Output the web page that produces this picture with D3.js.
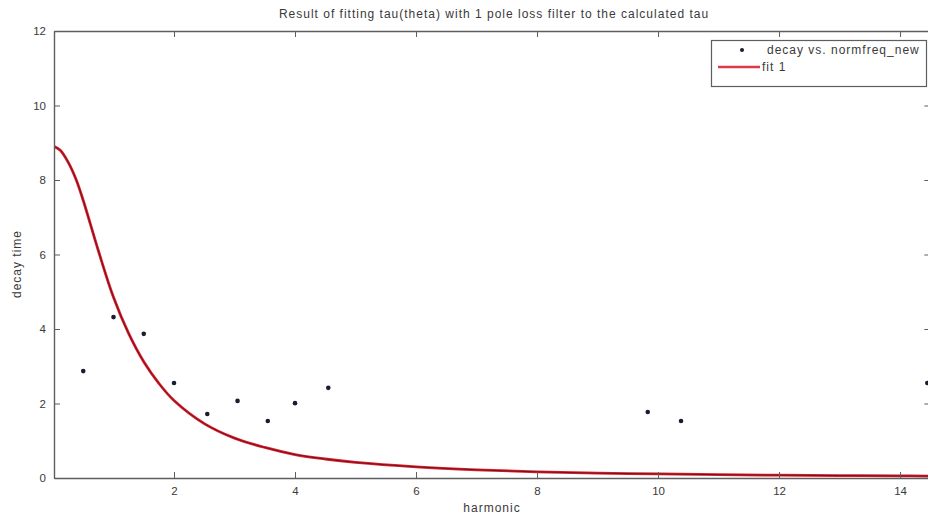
<!DOCTYPE html>
<html>
<head>
<meta charset="utf-8">
<script src="https://cdn.jsdelivr.net/npm/d3@7"></script>
<style>
  html, body { margin: 0; padding: 0; background: #fff; }
  svg { display: block; font-family: "Liberation Sans", Arial, sans-serif; }
</style>
</head>
<body>
<svg id="chart" width="928" height="517"></svg>
<script>
// Measured decay times per harmonic
const harmonic = [0.5, 1.0, 1.5, 2.0, 2.55, 3.05, 3.55, 4.0, 4.55, 9.83, 10.38, 14.45];
const decay    = [2.87, 4.32, 3.87, 2.55, 1.72, 2.07, 1.53, 2.01, 2.42, 1.77, 1.53, 2.55];

// Fitted one-pole loss filter curve, sampled along the harmonic axis
const fitHarmonic = [0.02, 0.12, 0.25, 0.38, 0.5, 0.75, 1.0, 1.25, 1.5, 1.75, 2.0, 2.5, 3.0, 3.5, 4.0, 4.5, 5.0, 6.0, 7.0, 8.0, 9.0, 10.0, 11.0, 12.0, 13.0, 14.0, 14.5];
const fitDecay    = [8.90, 8.80, 8.48, 8.02, 7.45, 6.10, 4.85, 3.88, 3.12, 2.54, 2.08, 1.46, 1.07, 0.82, 0.63, 0.51, 0.42, 0.30, 0.22, 0.165, 0.13, 0.11, 0.09, 0.075, 0.065, 0.056, 0.052];

const xTicks = [2, 4, 6, 8, 10, 12, 14];
const yTicks = [0, 2, 4, 6, 8, 10, 12];

const titleText = "Result of fitting tau(theta) with 1 pole loss filter to the calculated tau";
const xLabel = "harmonic";
const yLabel = "decay time";
const legendLabels = ["decay vs. normfreq_new", "fit 1"];

const svg = d3.select("#chart");
const plotLeft = 54, plotRight = 930.3, plotTop = 31, plotBottom = 478;

const x = d3.scaleLinear().domain([0.0165, 14.5]).range([plotLeft, plotRight]);
const y = d3.scaleLinear().domain([0, 12]).range([plotBottom, plotTop]);

const axisColor = "#5e5e5e";
const textColor = "#3a3a3a";
const labelFont = 12, labelSpacing = 1;

// Clip for plotted marks
svg.append("defs").append("clipPath").attr("id", "plotClip")
  .append("rect").attr("x", plotLeft).attr("y", plotTop)
  .attr("width", plotRight - plotLeft).attr("height", plotBottom - plotTop);

// Fit curve
const line = d3.line()
  .x((d, i) => x(fitHarmonic[i]))
  .y(d => y(d))
  .curve(d3.curveCatmullRom.alpha(0.5));

const plot = svg.append("g").attr("clip-path", "url(#plotClip)");
plot.append("path").datum(fitDecay)
  .attr("d", line).attr("fill", "none")
  .attr("stroke", "#d8202e").attr("stroke-width", 2.8);
plot.append("path").datum(fitDecay)
  .attr("d", line).attr("fill", "none")
  .attr("stroke", "#5a0a12").attr("stroke-width", 0.9).attr("stroke-opacity", 0.85);

// Data points
plot.selectAll("circle.pt").data(decay).join("circle")
  .attr("class", "pt")
  .attr("cx", (d, i) => x(harmonic[i]))
  .attr("cy", d => y(d))
  .attr("r", 2.3)
  .attr("fill", "#1c1c30");

// Axes (ticks point inward on all four sides)
function styleAxis(g) {
  g.select(".domain").attr("stroke", axisColor).attr("stroke-width", 1.4);
  g.selectAll(".tick line").attr("stroke", axisColor).attr("stroke-width", 1);
  g.selectAll(".tick text").attr("fill", textColor).attr("font-size", 11.5)
    .attr("font-family", "'Liberation Sans', Arial, sans-serif");
}

svg.append("g").attr("transform", `translate(0,${plotBottom})`)
  .call(d3.axisBottom(x).tickValues(xTicks).tickSizeInner(-6).tickSizeOuter(0).tickPadding(9))
  .call(styleAxis);
svg.append("g").attr("transform", `translate(0,${plotTop})`)
  .call(d3.axisTop(x).tickValues(xTicks).tickSizeInner(-6).tickSizeOuter(0).tickFormat(""))
  .call(styleAxis);
svg.append("g").attr("transform", `translate(${plotLeft},0)`)
  .call(d3.axisLeft(y).tickValues(yTicks).tickSizeInner(-6).tickSizeOuter(0).tickPadding(8))
  .call(styleAxis);
svg.append("g").attr("transform", `translate(${plotRight},0)`)
  .call(d3.axisRight(y).tickValues(yTicks).tickSizeInner(-6).tickSizeOuter(0).tickFormat(""))
  .call(styleAxis);

// Title and axis labels
function label(sel) {
  return sel.attr("font-size", labelFont).attr("letter-spacing", labelSpacing).attr("fill", textColor);
}
svg.append("text").attr("x", 494).attr("y", 18)
  .attr("text-anchor", "middle").call(label).text(titleText);
svg.append("text").attr("x", 492).attr("y", 512)
  .attr("text-anchor", "middle").call(label).text(xLabel);
svg.append("text").attr("transform", `translate(21,264) rotate(-90)`)
  .attr("text-anchor", "middle").call(label).text(yLabel);

// Legend
const lg = svg.append("g");
lg.append("rect").attr("x", 711.5).attr("y", 40.5).attr("width", 215).attr("height", 46)
  .attr("fill", "#fff").attr("stroke", axisColor).attr("stroke-width", 1.2);
lg.append("circle").attr("cx", 742).attr("cy", 50).attr("r", 2).attr("fill", "#1c1c30");
lg.append("text").attr("x", 767).attr("y", 54).call(label).text(legendLabels[0]);
lg.append("line").attr("x1", 718).attr("x2", 760).attr("y1", 67).attr("y2", 67)
  .attr("stroke", "#dc3a4a").attr("stroke-width", 2.6);
lg.append("text").attr("x", 762).attr("y", 71).call(label).text(legendLabels[1]);
</script>
</body>
</html>
